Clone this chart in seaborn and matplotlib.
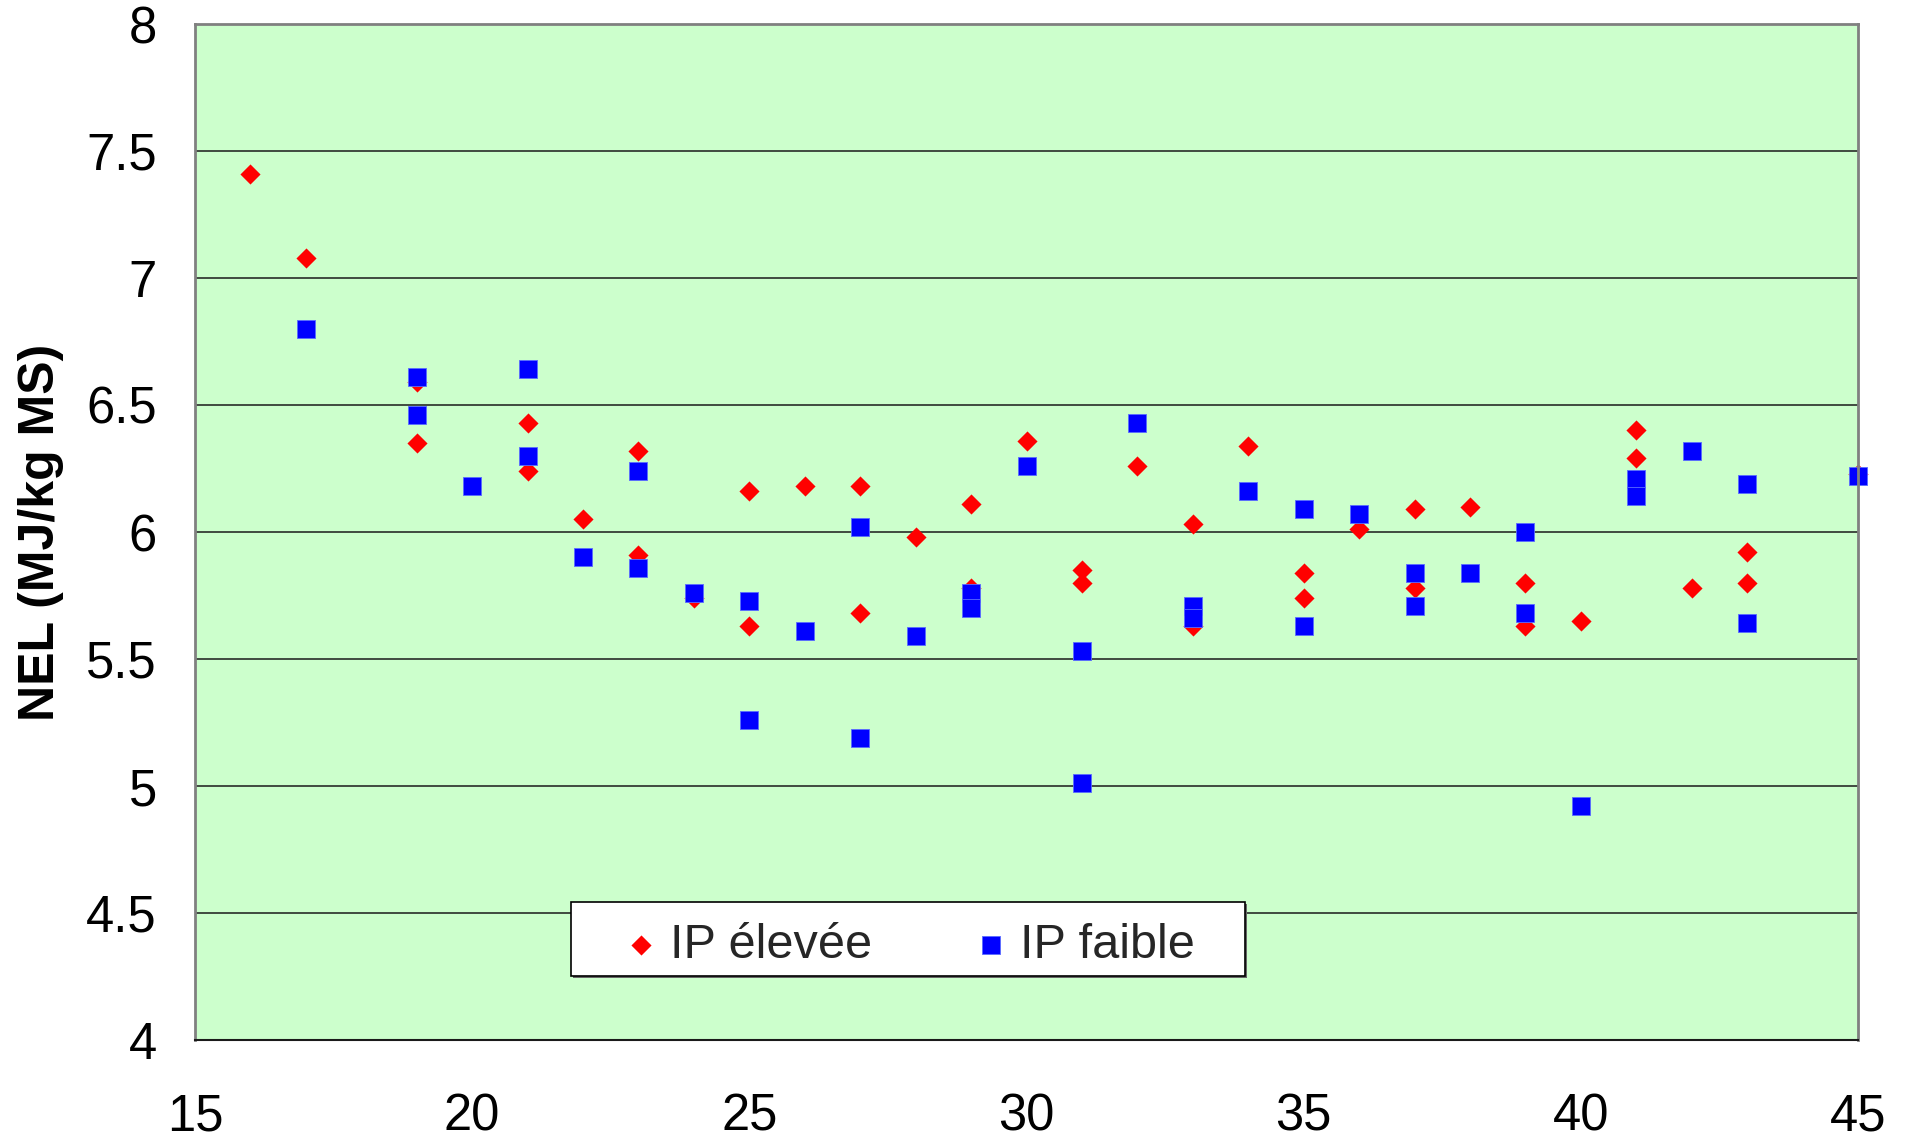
import matplotlib
matplotlib.use("Agg")
import matplotlib.pyplot as plt
import matplotlib.patches as mpatches
import matplotlib.patheffects as pe
import seaborn as sns
import pandas as pd

# IP élevée (red diamonds)
eleve_x = [16, 17, 19, 19, 21, 21, 22, 23, 23, 24, 25, 25, 26, 27, 27, 28, 29, 29,
           30, 31, 31, 32, 33, 33, 34, 35, 35, 36, 37, 37, 38, 39, 39, 40, 41, 41,
           42, 43, 43, 45]
eleve_y = [7.41, 7.08, 6.59, 6.35, 6.43, 6.24, 6.05, 6.32, 5.91, 5.74, 6.16, 5.63,
           6.18, 6.18, 5.68, 5.98, 6.11, 5.78, 6.36, 5.85, 5.80, 6.26, 6.03, 5.63,
           6.34, 5.84, 5.74, 6.01, 6.09, 5.78, 6.10, 5.80, 5.63, 5.65, 6.40, 6.29,
           5.78, 5.92, 5.80, 6.23]

# IP faible (blue squares)
faible_x = [17, 19, 19, 20, 21, 21, 22, 23, 23, 24, 25, 25, 26, 27, 27, 28, 29, 29,
            30, 31, 31, 32, 33, 33, 34, 35, 35, 36, 37, 37, 38, 39, 39, 40, 41, 41,
            42, 43, 43, 45]
faible_y = [6.80, 6.61, 6.46, 6.18, 6.64, 6.30, 5.90, 6.24, 5.86, 5.76, 5.73, 5.26,
            5.61, 6.02, 5.19, 5.59, 5.76, 5.70, 6.26, 5.53, 5.01, 6.43, 5.71, 5.66,
            6.16, 6.09, 5.63, 6.07, 5.84, 5.71, 5.84, 6.00, 5.68, 4.92, 6.21, 6.14,
            6.32, 6.19, 5.64, 6.22]

series_names = ["IP élevée", "IP faible"]
x_ticks = [15, 20, 25, 30, 35, 40, 45]
y_ticks = [4, 4.5, 5, 5.5, 6, 6.5, 7, 7.5, 8]
y_tick_labels = ["4", "4.5", "5", "5.5", "6", "6.5", "7", "7.5", "8"]
y_label = "NEL (MJ/kg MS)"

df_e = pd.DataFrame({"x": eleve_x, "y": eleve_y})
df_f = pd.DataFrame({"x": faible_x, "y": faible_y})

sns.set_theme(style="white")
plt.rcParams["font.family"] = ["Liberation Sans", "DejaVu Sans"]

fig = plt.figure(figsize=(19.08, 11.38), dpi=100)
ax = fig.add_axes([195 / 1908, 1 - 1040 / 1138, 1663 / 1908, 1016 / 1138])
ax.set_facecolor("#CCFFCC")

sns.scatterplot(data=df_e, x="x", y="y", marker="D", color="#FF0000", s=105,
                linewidth=0, ax=ax, label=series_names[0], zorder=3, clip_on=False)
sns.scatterplot(data=df_f, x="x", y="y", marker="s", color="#0000FF", s=150,
                linewidth=0.6, edgecolor="#5a6cff", ax=ax, label=series_names[1],
                zorder=4, clip_on=False)

ax.set_xlim(15, 45)
ax.set_ylim(4, 8)
ax.set_xticks(x_ticks)
ax.set_xticklabels([str(t) for t in x_ticks])
ax.set_yticks(y_ticks)
ax.set_yticklabels(y_tick_labels)

for yv in y_ticks[1:-1]:
    ax.axhline(yv, color="#1a1a1a", linewidth=1.1, zorder=1)

ax.tick_params(axis="both", which="major", direction="out", length=11.5, width=1.1,
               color="#333333", labelsize=36.5, labelcolor="black")
ax.tick_params(axis="x", pad=26)
ax.tick_params(axis="y", pad=16)

ax.set_xlabel("")
ax.set_ylabel(y_label, fontsize=36, fontweight="bold", labelpad=16, color="black")

for side in ["left", "right", "top"]:
    ax.spines[side].set_color("#808080")
    ax.spines[side].set_linewidth(2)
ax.spines["bottom"].set_color("#1a1a1a")
ax.spines["bottom"].set_linewidth(1.5)
for s in ax.spines.values():
    s.set_zorder(5)

# legend frame (white box with thin shadow)
frame = mpatches.Rectangle((0.2261, 0.0630), 0.4053, 0.0728, transform=ax.transAxes,
                           facecolor="white", edgecolor="black", linewidth=1.2,
                           zorder=9, clip_on=False)
frame.set_path_effects([pe.SimplePatchShadow(offset=(1.5, -1.5),
                                             shadow_rgbFace="#666666", alpha=1),
                        pe.Normal()])
ax.add_patch(frame)

leg = ax.legend(loc="center left", bbox_to_anchor=(0.2535, 0.0935), ncol=2,
                fontsize=35, frameon=False, borderpad=0, borderaxespad=0,
                columnspacing=1.95, handletextpad=0.1, handlelength=1.0,
                markerscale=1.0)
leg.set_zorder(10)

fig.savefig("out.png", dpi=100)
